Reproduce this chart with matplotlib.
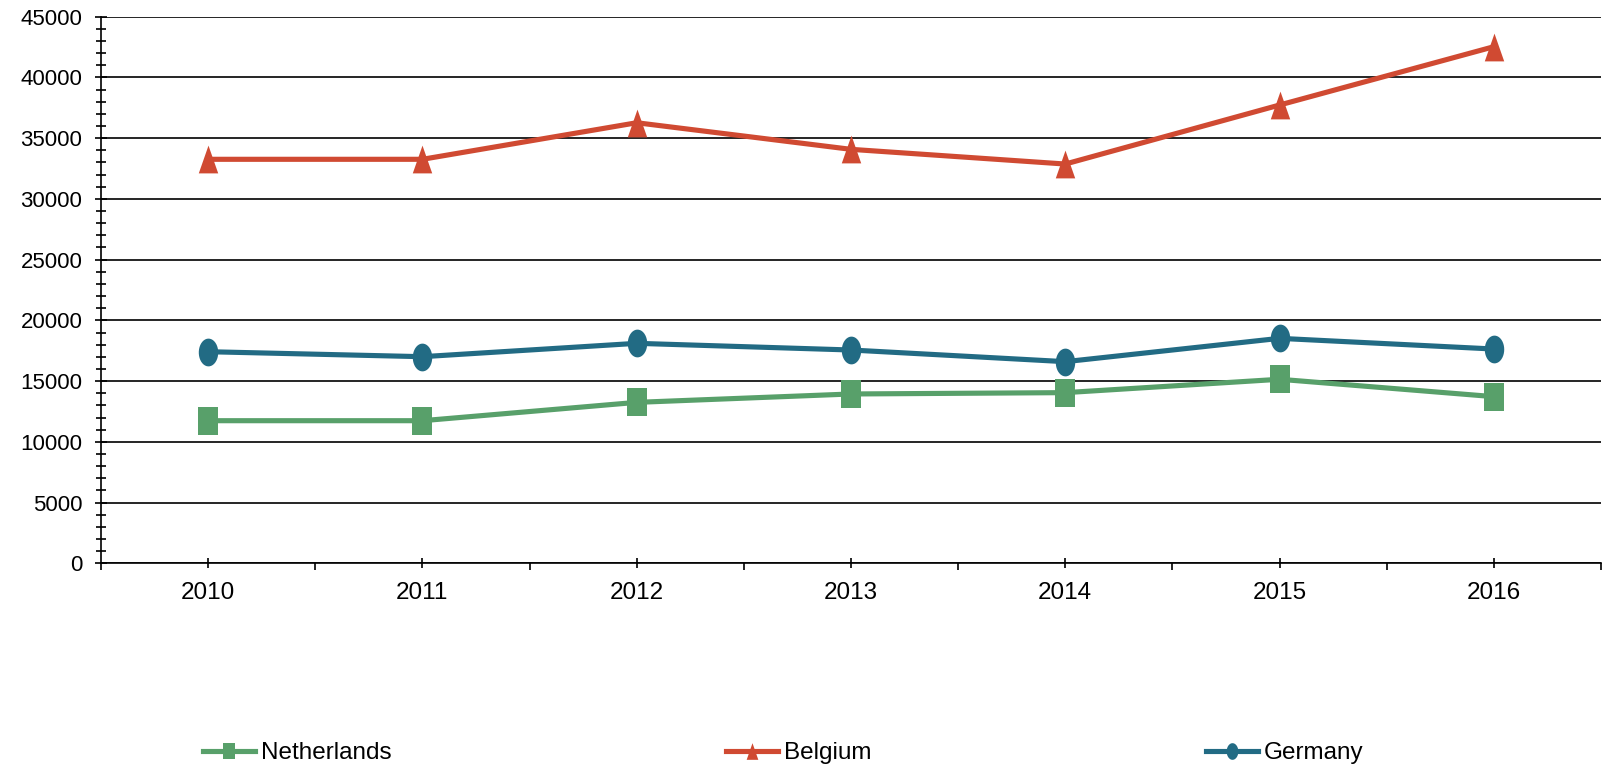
import matplotlib
matplotlib.use("Agg")
import numpy as np
import matplotlib.pyplot as plt
from matplotlib.ticker import MultipleLocator, FixedLocator
from matplotlib.lines import Line2D

# data
years = ['2010', '2011', '2012', '2013', '2014', '2015', '2016']
netherlands = [11740, 11740, 13250, 13940, 14050, 15150, 13720]
belgium = [33260, 33260, 36270, 34080, 32870, 37730, 42530]
germany = [17420, 17010, 18110, 17560, 16600, 18520, 17640]

series_names = ['Netherlands', 'Belgium', 'Germany']
colors = ['#58A06A', '#D04A32', '#226B84']

# markers in the reference are stretched vertically (about 14 x 20 px)
sq = [(-0.35, -0.5), (0.35, -0.5), (0.35, 0.5), (-0.35, 0.5), (-0.35, -0.5)]
tri = [(-0.35, -0.5), (0.35, -0.5), (0.0, 0.5), (-0.35, -0.5)]
t = np.linspace(0, 2 * np.pi, 40)
ell = list(zip(0.35 * np.cos(t), 0.5 * np.sin(t)))
markers = [sq, tri, ell]

plt.rcParams['font.family'] = ['Liberation Sans', 'DejaVu Sans']

fig = plt.figure(figsize=(16.08, 7.66), dpi=100)
ax = fig.add_axes([101 / 1608, 1 - 563.3 / 766, 1500 / 1608, (563.3 - 16.7) / 766])

x = list(range(len(years)))
for vals, name, c, m in zip([netherlands, belgium, germany], series_names, colors, markers):
    ax.plot(x, vals, color=c, marker=m, markersize=20, linewidth=3.7, label=name,
            markeredgewidth=0, zorder=3, clip_on=False)

ax.set_xlim(-0.5, len(years) - 0.5)
ax.set_ylim(0, 45000)

ax.yaxis.set_major_locator(MultipleLocator(5000))
ax.yaxis.set_minor_locator(MultipleLocator(1000))
ax.set_xticks(x)
ax.set_xticklabels(years)
ax.xaxis.set_minor_locator(FixedLocator([i - 0.5 for i in range(len(years) + 1)]))

ax.grid(axis='y', which='major', color='black', linewidth=1.2)
ax.set_axisbelow(True)

for s in ['top', 'right']:
    ax.spines[s].set_visible(False)
for s in ['left', 'bottom']:
    ax.spines[s].set_linewidth(1.2)
    ax.spines[s].set_color('black')

ax.tick_params(axis='y', which='major', direction='inout', length=9, width=1.2, pad=9, labelsize=16)
ax.tick_params(axis='y', which='minor', direction='inout', length=6.5, width=1.2)
ax.tick_params(axis='x', which='major', direction='inout', length=7, width=1.2, pad=10, labelsize=17.5)
ax.tick_params(axis='x', which='minor', direction='out', length=5, width=1.2)

handles = [Line2D([], [], color=c, marker=m, markersize=12, linewidth=3.7, markeredgewidth=0)
           for c, m in zip(colors, markers)]
fig.legend(handles, series_names, loc='center left', bbox_to_anchor=(203 / 1608, 1 - 753 / 766),
           ncol=3, frameon=False, fontsize=17.5, borderpad=0, borderaxespad=0,
           handlelength=2.14, handletextpad=0.25, columnspacing=13.75)

fig.savefig('out.png', dpi=100)
